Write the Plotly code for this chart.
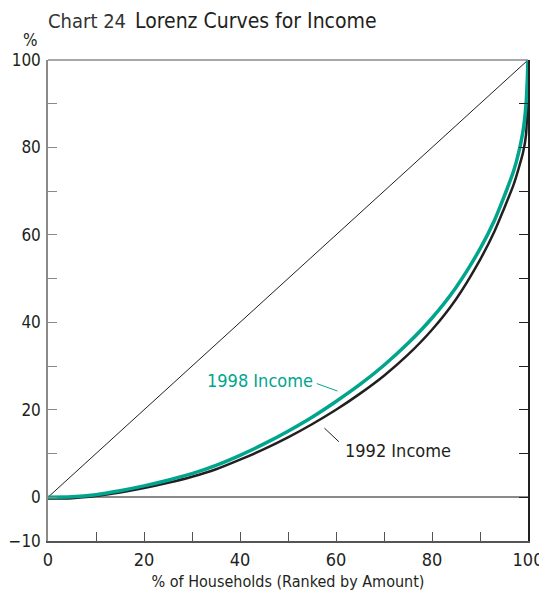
import plotly.graph_objects as go

# Data
pct_households = [0, 5, 10, 15, 20, 25, 30, 35, 40, 45, 50, 55, 60, 65, 70, 75, 80, 85, 90, 93, 95, 97, 98, 99, 99.6, 100]
income_1992 = [-0.3, -0.2, 0.3, 1.1, 2.1, 3.3, 4.7, 6.4, 8.6, 11.0, 13.7, 16.7, 20.0, 23.7, 27.8, 32.6, 38.3, 45.3, 54.3, 60.8, 66.0, 71.5, 75.0, 79.0, 83.0, 100]
income_1998 = [0.0, 0.1, 0.6, 1.5, 2.6, 3.9, 5.4, 7.3, 9.6, 12.2, 15.1, 18.3, 21.9, 25.8, 30.2, 35.2, 41.0, 48.0, 56.8, 63.3, 68.7, 74.6, 78.6, 84.0, 90.0, 100]
equality_x = [0, 100]
equality_y = [0, 100]

x_ticks = [0, 10, 20, 30, 40, 50, 60, 70, 80, 90, 100]
x_ticktext = ["0", "", "20", "", "40", "", "60", "", "80", "", "100"]
y_ticks = [-10, 0, 10, 20, 30, 40, 50, 60, 70, 80, 90, 100]
y_ticktext = ["\u221210", "0", "", "20", "", "40", "", "60", "", "80", "", "100"]

FONT = "DejaVu Sans Condensed, Liberation Sans Narrow, Arial Narrow, sans-serif"
TEAL = "#00a58d"
DARK = "#231f20"
GREY = "#8a8a8a"

fig = go.Figure()
fig.add_trace(go.Scatter(x=equality_x, y=equality_y, mode="lines",
                         line=dict(color=DARK, width=1), hoverinfo="skip"))
fig.add_trace(go.Scatter(x=pct_households, y=income_1992, mode="lines",
                         line=dict(color=DARK, width=2.5, shape="spline", smoothing=0.8)))
fig.add_trace(go.Scatter(x=pct_households, y=income_1998, mode="lines",
                         line=dict(color=TEAL, width=3.5, shape="spline", smoothing=0.8)))
# invisible trace for right axis ticks
fig.add_trace(go.Scatter(x=[0], y=[0], yaxis="y2", mode="markers",
                         marker=dict(opacity=0), hoverinfo="skip"))

fig.update_layout(
    width=547, height=599,
    margin=dict(l=40, r=27, t=52, b=66),
    plot_bgcolor="white", paper_bgcolor="white",
    showlegend=False,
    font=dict(family=FONT, color="#231f20", size=18),
    xaxis=dict(range=[0, 100], tickvals=x_ticks, ticktext=x_ticktext, automargin=False,
               ticks="inside", ticklen=9, tickcolor="#555555", tickwidth=1.2,
               showline=True, linecolor="#555555", linewidth=1.5,
               showgrid=False, zeroline=False,
               tickfont=dict(size=18), ticklabelstandoff=2,
               title=dict(text="% of Households (Ranked by Amount)", font=dict(size=16), standoff=6)),
    yaxis=dict(range=[-10, 100], tickvals=y_ticks, ticktext=y_ticktext, automargin=False,
               ticks="inside", ticklen=9, tickcolor=GREY, tickwidth=1.2,
               showline=True, linecolor=GREY, linewidth=1.5,
               showgrid=False, zeroline=True, zerolinecolor=GREY, zerolinewidth=1.5,
               tickfont=dict(size=17), ticklabelstandoff=2),
    yaxis2=dict(range=[-10, 100], overlaying="y", side="right", tickvals=y_ticks, automargin=False,
                ticks="inside", ticklen=9, tickcolor=DARK, tickwidth=1.2,
                showline=True, linecolor=DARK, linewidth=1.5,
                showticklabels=False, showgrid=False, zeroline=False),
)

# top frame line
fig.add_shape(type="line", xref="paper", yref="paper", x0=0, x1=1, y0=1, y1=1,
              line=dict(color=GREY, width=1.5))

# title
fig.add_annotation(xref="paper", yref="paper", x=-0.005, y=1.081, xanchor="left", yanchor="middle",
                   text="Chart 24", showarrow=False, font=dict(size=20, color="#333333"))
fig.add_annotation(xref="paper", yref="paper", x=0.178, y=1.081, xanchor="left", yanchor="middle",
                   text="Lorenz Curves for Income", showarrow=False, font=dict(size=21, color="#231f20"))
fig.add_annotation(xref="paper", yref="paper", x=-0.0375, y=1.042, xanchor="center", yanchor="middle",
                   text="%", showarrow=False, font=dict(size=17))

# series labels with leader lines
fig.add_annotation(x=55.6, y=26.8, xanchor="right", yanchor="middle", text="1998 Income",
                   showarrow=False, font=dict(size=18, color=TEAL))
fig.add_shape(type="line", x0=56.0, y0=26.0, x1=60.3, y1=24.3, line=dict(color=TEAL, width=1))
fig.add_annotation(x=61.4, y=10.7, xanchor="left", yanchor="middle", text="1992 Income",
                   showarrow=False, font=dict(size=18, color=DARK))
fig.add_shape(type="line", x0=57.6, y0=15.8, x1=60.6, y1=12.7, line=dict(color=DARK, width=1))

fig.write_html("out.html")
